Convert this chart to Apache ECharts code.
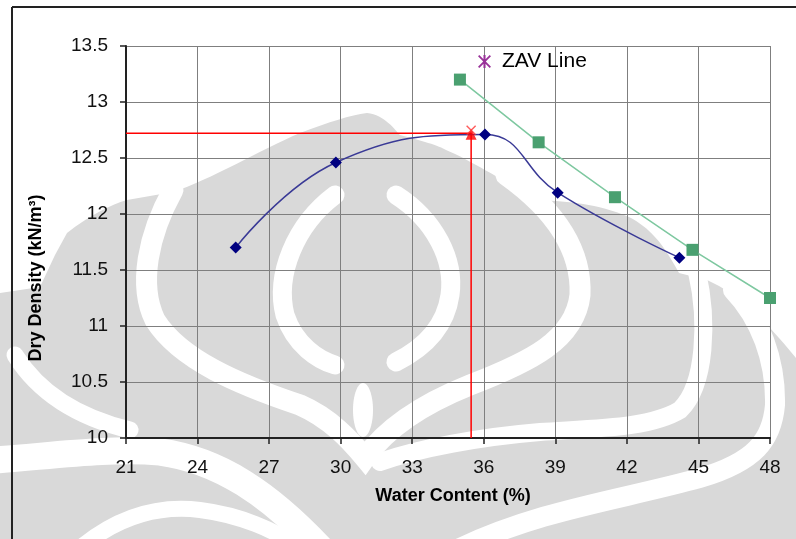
<!DOCTYPE html>
<html>
<head>
<meta charset="utf-8">
<script src="https://cdn.jsdelivr.net/npm/echarts@6/dist/echarts.min.js"></script>
<style>
  html, body { margin: 0; padding: 0; background: #ffffff; }
  #chart { width: 796px; height: 539px; }
</style>
</head>
<body>
<div id="chart"></div>
<script>
// Compaction test: dry density against water content
const xTicks = { min: 21, max: 48, step: 3 };
const yTicks = { min: 10, max: 13.5, step: 0.5 };

const waterContent = [25.6, 29.8, 36.05, 39.1, 44.2];
const dryDensity   = [11.70, 12.46, 12.71, 12.19, 11.61];

const zavWater   = [35.0, 38.3, 41.5, 44.75, 48.0];
const zavDensity = [13.20, 12.64, 12.15, 11.68, 11.25];

const optimumWater = 35.47;
const maxDryDensity = 12.72;

const FONT = 'Arial, "Liberation Sans", sans-serif';
const GREY = '#d9d9d9';

// background emblem in light grey, drawn in page pixels
const emblemBase = 'M0,293 L40,287 L55,255 L67,233 C90,215 110,205 127,200 L173,192 ' +
  'C210,180 260,150 300,133 C330,122 350,115 367,113 C385,115 395,130 400,135 ' +
  'C420,140 440,146 446,150 C470,160 496,177 539,200 C570,202 596,203 629,217 ' +
  'C650,228 663,243 679,273 L707,280 C740,295 765,320 796,358 L796,539 L0,539 Z';
const emblemCuts = [
  { d: 'M173,190 C148,235 138,285 155,320 C180,360 240,385 300,405 C330,418 350,440 365,458 C385,430 420,405 470,385 C530,362 575,340 580,295 C582,250 555,210 506,175', w: 21 },
  { d: 'M335,195 C295,225 275,275 285,315 C295,345 318,360 335,365', w: 19 },
  { d: 'M396,195 C435,220 455,260 450,295 C445,330 420,350 396,362', w: 19 },
  { d: 'M15,355 C40,395 80,418 130,430', w: 17 },
  { d: 'M-5,460 C60,455 110,448 160,452 C220,460 270,495 320,548', w: 27 },
  { d: 'M80,548 C120,515 160,505 200,510 C240,515 275,530 300,548', w: 16 },
  { d: 'M697,272 C708,320 706,385 680,410 C650,428 600,428 540,432 C480,437 420,448 380,462', w: 18 },
  { d: 'M733,290 C760,318 776,360 775,405 C772,440 755,462 700,478 C620,500 540,510 460,548', w: 20 }
];

function renderEmblem() {
  const children = [
    { type: 'path', shape: { pathData: emblemBase }, style: { fill: GREY } }
  ];
  emblemCuts.forEach(c => children.push({
    type: 'path', shape: { pathData: c.d },
    style: { fill: null, stroke: '#ffffff', lineWidth: c.w, lineCap: 'round' }
  }));
  children.push({ type: 'ellipse', shape: { cx: 363, cy: 410, rx: 10, ry: 27 }, style: { fill: '#ffffff' } });
  return { type: 'group', children: children };
}

const asterisk = 'path://M0,1 L1,0 L5,4 L9,0 L10,1 L6,5 L10,9 L9,10 L5,6 L1,10 L0,9 L4,5 Z M4.2,0 L5.8,0 L5.8,10 L4.2,10 Z';
const crossMark = 'path://M0,1 L1,0 L5,4 L9,0 L10,1 L6,5 L10,9 L9,10 L5,6 L1,10 L0,9 L4,5 Z';

const chart = echarts.init(document.getElementById('chart'));
chart.setOption({
  animation: false,
  backgroundColor: '#ffffff',
  textStyle: { fontFamily: FONT },
  graphic: [
    { type: 'line', z: 10, silent: true, shape: { x1: 12, y1: 7, x2: 12, y2: 539 }, style: { stroke: '#222', lineWidth: 2 } },
    { type: 'line', z: 10, silent: true, shape: { x1: 12, y1: 7, x2: 796, y2: 7 }, style: { stroke: '#222', lineWidth: 2 } }
  ],
  grid: { left: 126, right: 26, top: 46, bottom: 101 },
  legend: {
    left: 473, top: 46,
    itemWidth: 13, itemHeight: 13,
    textStyle: { fontFamily: FONT, fontSize: 21, color: '#000', padding: [0, 0, 0, 6] },
    data: [{ name: 'ZAV Line', icon: asterisk, itemStyle: { color: '#993399' } }]
  },
  xAxis: {
    type: 'value', min: xTicks.min, max: xTicks.max, interval: xTicks.step,
    name: 'Water Content (%)', nameLocation: 'middle', nameGap: 49,
    nameTextStyle: { fontFamily: FONT, fontSize: 18, fontWeight: 'bold', color: '#000', padding: [0, 0, 0, 10] },
    axisLine: { lineStyle: { color: '#222', width: 2 } },
    axisTick: { length: 6, lineStyle: { color: '#222', width: 1.5 } },
    axisLabel: { fontFamily: FONT, fontSize: 19, color: '#111', margin: 20 },
    splitLine: { show: true, lineStyle: { color: '#7f7f7f', width: 1 } }
  },
  yAxis: {
    type: 'value', min: yTicks.min, max: yTicks.max, interval: yTicks.step,
    name: 'Dry Density (kN/m³)', nameLocation: 'middle', nameGap: 81,
    nameTextStyle: { fontFamily: FONT, fontSize: 18, fontWeight: 'bold', color: '#000', padding: [0, 72, 0, 0] },
    axisLine: { show: true, lineStyle: { color: '#222', width: 2 } },
    axisTick: { show: true, length: 6, lineStyle: { color: '#222', width: 1.5 } },
    axisLabel: { fontFamily: FONT, fontSize: 19, color: '#111', margin: 18 },
    splitLine: { show: true, lineStyle: { color: '#7f7f7f', width: 1 } }
  },
  series: [
    {
      name: 'emblem', type: 'custom', coordinateSystem: 'none', silent: true,
      z: -5, clip: false, data: [0], renderItem: renderEmblem
    },
    {
      name: 'Optimum', type: 'line', symbol: 'none', silent: true,
      data: [[xTicks.min, maxDryDensity], [optimumWater, maxDryDensity], [optimumWater, yTicks.min]],
      lineStyle: { color: '#ff0000', width: 1.5 }, z: 3
    },
    {
      name: 'Dry Density', type: 'line', smooth: 0.45,
      data: waterContent.map((w, i) => [w, dryDensity[i]]),
      symbol: 'diamond', symbolSize: 12,
      itemStyle: { color: '#000080' },
      lineStyle: { color: '#3a3a96', width: 1.5 }, z: 4
    },
    {
      name: 'ZAV Line', type: 'line',
      data: zavWater.map((w, i) => [w, zavDensity[i]]),
      symbol: 'rect', symbolSize: 12,
      itemStyle: { color: '#4aa070' },
      lineStyle: { color: '#7ec8a0', width: 1.5 }, z: 4
    },
    {
      name: 'MDD', type: 'scatter', symbol: 'triangle', symbolSize: 11, symbolOffset: [0, 1],
      data: [[optimumWater, maxDryDensity]], itemStyle: { color: '#ff0000' }, z: 5
    },
    {
      name: 'MDD cross', type: 'scatter', symbol: crossMark, symbolSize: 10, symbolOffset: [0, -3],
      data: [[optimumWater, maxDryDensity]], itemStyle: { color: '#ff3333' }, z: 5
    }
  ]
});
</script>
</body>
</html>
